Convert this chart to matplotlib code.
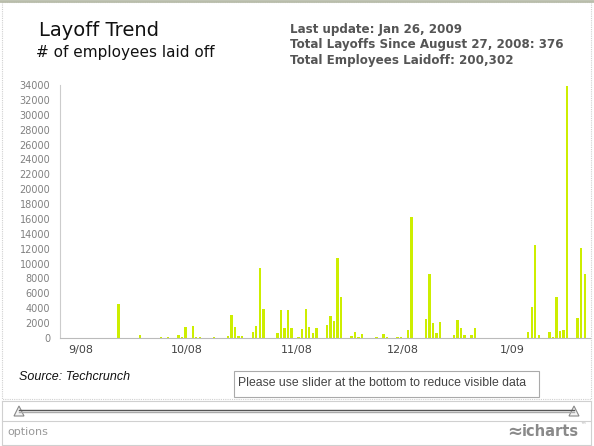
import pandas as pd
import matplotlib
matplotlib.use("Agg")
import matplotlib.pyplot as plt
from matplotlib.patches import Rectangle, Polygon

# daily layoff counts
dates = [
    "2008-09-11", "2008-09-13", "2008-09-19", "2008-09-25", "2008-09-27", "2008-09-30",
    "2008-10-01", "2008-10-02", "2008-10-04", "2008-10-05", "2008-10-06", "2008-10-10",
    "2008-10-14", "2008-10-15", "2008-10-16", "2008-10-17", "2008-10-18", "2008-10-21",
    "2008-10-22", "2008-10-23", "2008-10-24", "2008-10-28", "2008-10-29", "2008-10-30",
    "2008-10-31", "2008-11-01", "2008-11-03", "2008-11-04", "2008-11-05", "2008-11-06",
    "2008-11-07", "2008-11-08", "2008-11-11", "2008-11-12", "2008-11-13", "2008-11-14",
    "2008-11-15", "2008-11-18", "2008-11-19", "2008-11-20", "2008-11-21", "2008-11-23",
    "2008-11-25", "2008-11-27", "2008-11-28", "2008-12-01", "2008-12-02", "2008-12-04",
    "2008-12-05", "2008-12-06", "2008-12-09", "2008-12-10", "2008-12-11", "2008-12-12",
    "2008-12-13", "2008-12-17", "2008-12-18", "2008-12-19", "2008-12-20", "2008-12-22",
    "2008-12-23", "2009-01-07", "2009-01-08", "2009-01-09", "2009-01-10", "2009-01-13",
    "2009-01-14", "2009-01-15", "2009-01-16", "2009-01-17", "2009-01-18", "2009-01-21",
    "2009-01-22", "2009-01-23",
]
laid_off = [
    60, 4600, 350, 180, 100, 450,
    180, 1500, 1600, 130, 130, 100,
    220, 3100, 1450, 220, 220, 760,
    1600, 9450, 3850, 630, 3720, 1300,
    3720, 1300, 130, 1200, 3850, 1480,
    630, 1300, 1700, 3000, 2290, 10700,
    5470, 220, 850, 130, 490, 50,
    180, 490, 130, 90, 90, 1030,
    16300, 50, 2550, 8560, 2060, 630,
    2200, 400, 2460, 1340, 360, 360,
    1300, 760, 4210, 12540, 450, 850,
    90, 5470, 990, 1080, 33900, 2640,
    12050, 8650,
]

month_ticks = ["2008-09-01", "2008-10-01", "2008-11-01", "2008-12-01", "2009-01-01"]
month_labels = ["9/08", "10/08", "11/08", "12/08", "1/09"]
y_ticks = list(range(0, 34001, 2000))

W, H = 594, 446
fig = plt.figure(figsize=(W / 100, H / 100), dpi=100)

# background frame drawn in pixel coordinates
bg = fig.add_axes([0, 0, 1, 1])
bg.set_xlim(0, W)
bg.set_ylim(H, 0)
bg.axis("off")
bg.add_patch(Rectangle((2, 2), 589, 397, fill=False, ec="#d0d0d0", lw=0.8, ls=(0, (1, 1))))
bg.plot([0, W], [0.8, 0.8], color="#b9bdab", lw=2)
bg.plot([2, 591], [401, 401], color="#d0d0d0", lw=0.8)
bg.plot([2, 591], [420.5, 420.5], color="#d0d0d0", lw=0.8)
bg.plot([2, 591], [444.5, 444.5], color="#d0d0d0", lw=0.8)
bg.plot([2, 2], [401, 444.5], color="#d0d0d0", lw=0.8)
bg.plot([591, 591], [401, 444.5], color="#d0d0d0", lw=0.8)
bg.plot([19, 574], [409.5, 409.5], color="#555555", lw=1)
bg.plot([19, 574], [411.5, 411.5], color="#aaaaaa", lw=1)
for cx in (19, 574):
    bg.add_patch(Polygon([[cx - 5, 416], [cx + 5, 416], [cx, 406]], closed=True,
                         fc="#f4f4f4", ec="#888888", lw=0.8))

bg.text(39, 30, "Layoff Trend", fontsize=14, color="#111111", va="center")
bg.text(36, 52, "# of employees laid off", fontsize=11, color="#111111", va="center")
info = ["Last update: Jan 26, 2009",
        "Total Layoffs Since August 27, 2008: 376",
        "Total Employees Laidoff: 200,302"]
for i, line in enumerate(info):
    bg.text(290, 29 + i * 15.8, line, fontsize=8.6, fontweight="bold", color="#555555", va="center")

bg.text(19, 377, "Source: Techcrunch", fontsize=9, style="italic", family="Liberation Sans",
        color="#111111", va="center")
bg.add_patch(Rectangle((234, 370.5), 305, 26, fill=True, fc="white", ec="#aaaaaa", lw=0.8))
bg.text(238, 383.5, "Please use slider at the bottom to reduce visible data", fontsize=8.8,
        family="Liberation Sans", color="#444444", va="center")
bg.text(7, 432, "options", fontsize=8, color="#999999", va="center")
bg.text(507, 432, "\u2248", fontsize=13, fontweight="bold", color="#8a8a8a", va="center")
bg.text(522, 432, "icharts", fontsize=10.5, fontweight="bold", color="#8a8a8a", va="center")
bg.text(580, 426, "\u2122", fontsize=4, color="#aaaaaa", va="center")

# the chart itself
ax = fig.add_axes([60 / W, 108 / H, 530 / W, 253 / H])
ax.set_facecolor("none")
x = pd.to_datetime(dates)
ax.bar(x, laid_off, width=0.68, color="#cdee00")

ax.set_xlim(pd.Timestamp("2008-08-27 10:00"), pd.Timestamp("2009-01-24 12:00"))
ax.set_ylim(0, 34000)
ax.set_yticks(y_ticks)
ax.set_yticklabels([str(v) for v in y_ticks], fontsize=7, color="#808080")
# labels sit a little right of the month start in the original
ax.set_xticks(pd.to_datetime(month_ticks) + pd.Timedelta(hours=34))
ax.set_xticklabels(month_labels, fontsize=8, color="#444444")
ax.tick_params(axis="both", length=0)
ax.tick_params(axis="y", pad=7)
ax.tick_params(axis="x", pad=5)
for side in ("top", "right"):
    ax.spines[side].set_visible(False)
ax.spines["left"].set_color("#cccccc")
ax.spines["bottom"].set_color("#bbbbbb")

fig.savefig("out.png", dpi=100)
